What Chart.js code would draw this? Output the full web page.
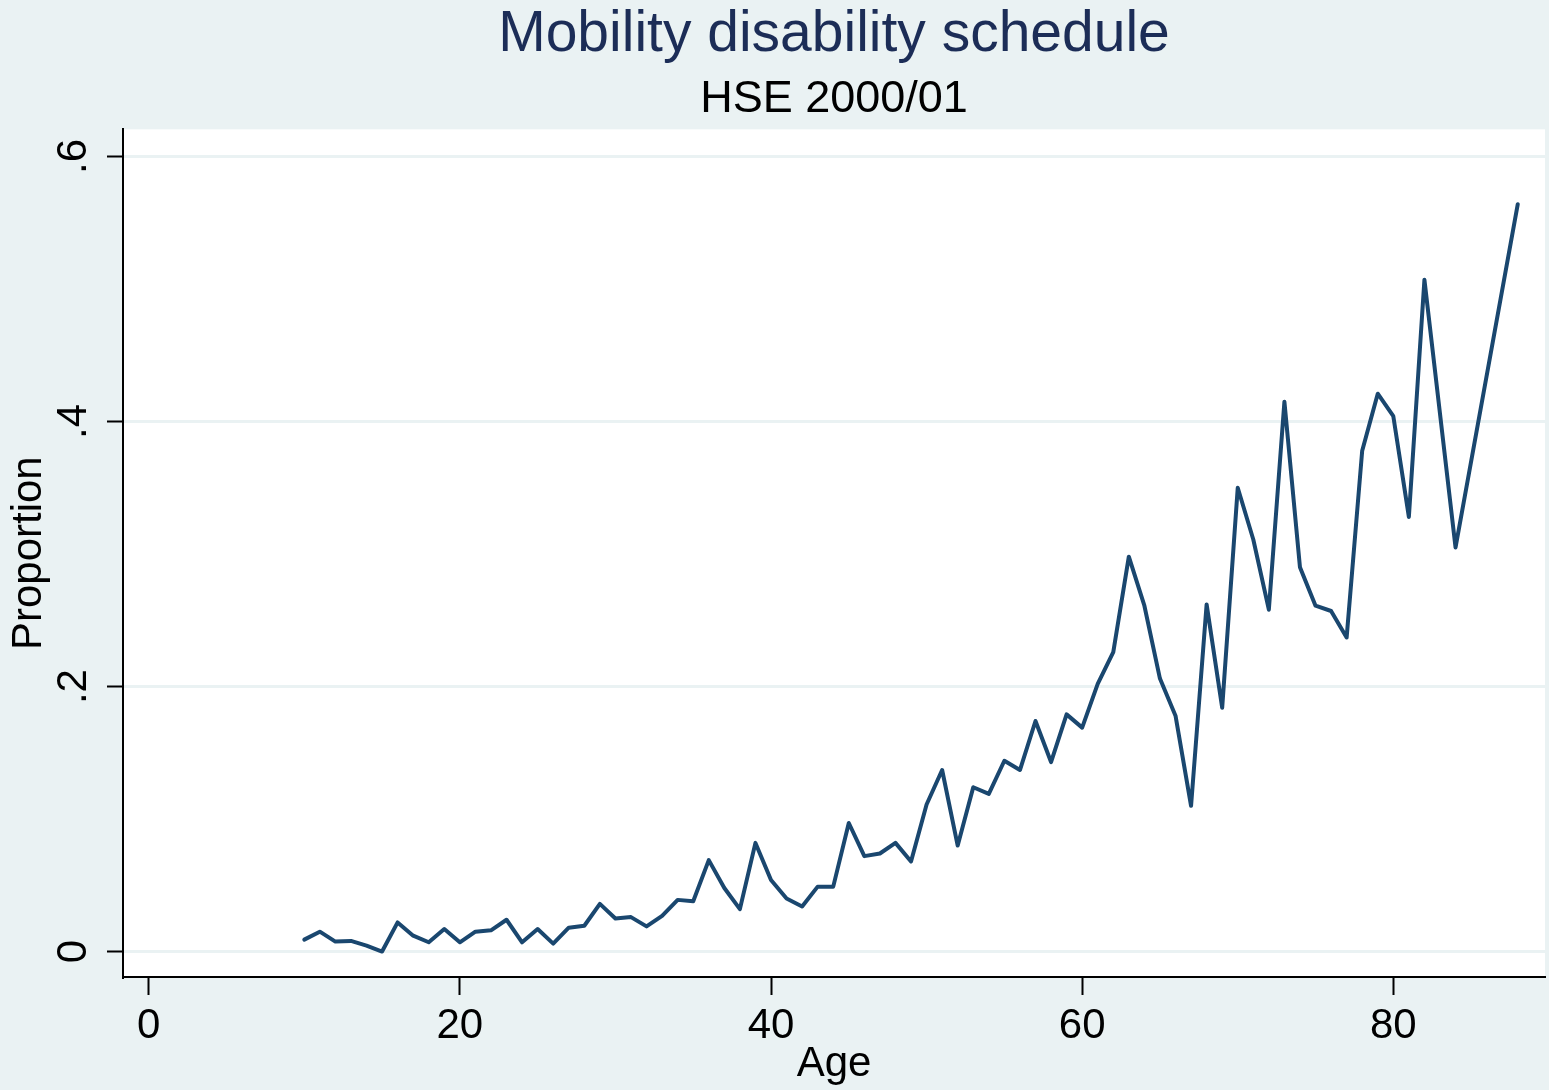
<!DOCTYPE html>
<html>
<head>
<meta charset="utf-8">
<script src="https://cdn.jsdelivr.net/npm/chart.js@4/dist/chart.umd.min.js"></script>
<style>
  html, body { margin: 0; padding: 0; background: #eaf2f3; }
  #wrap { width: 1549px; height: 1090px; }
</style>
</head>
<body>
<div id="wrap"><canvas id="c" width="1549" height="1090"></canvas></div>
<script>
// ---- data ----
const ages = [10,11,12,13,14,15,16,17,18,19,20,21,22,23,24,25,26,27,28,29,30,31,32,33,34,35,36,37,38,39,40,41,42,43,44,45,46,47,48,49,50,51,52,53,54,55,56,57,58,59,60,61,62,63,64,65,66,67,68,69,70,71,72,73,74,75,76,77,78,79,80,81,82,84,88];
const proportion = [0.009,0.015,0.0075,0.008,0.0045,0.0,0.022,0.012,0.007,0.017,0.007,0.015,0.016,0.024,0.007,0.017,0.006,0.018,0.0195,0.036,0.025,0.026,0.019,0.027,0.039,0.038,0.069,0.048,0.032,0.082,0.054,0.040,0.034,0.049,0.049,0.097,0.072,0.074,0.082,0.068,0.111,0.137,0.080,0.124,0.119,0.144,0.137,0.174,0.143,0.179,0.169,0.202,0.226,0.298,0.261,0.206,0.178,0.110,0.262,0.184,0.350,0.311,0.258,0.415,0.290,0.261,0.257,0.237,0.378,0.421,0.404,0.328,0.507,0.305,0.564];
const xTicks = [0, 20, 40, 60, 80];
const yTicks = [0, 0.2, 0.4, 0.6];
const yTickLabels = ['0', '.2', '.4', '.6'];
const titleText = 'Mobility disability schedule';
const subtitleText = 'HSE 2000/01';
const xTitle = 'Age';
const yTitle = 'Proportion';

const points = ages.map((a, i) => ({ x: a, y: proportion[i] }));

const FONT = "'Liberation Sans', Arial, Helvetica, sans-serif";

const plotBg = {
  id: 'plotBg',
  beforeDraw(chart) {
    const { ctx, chartArea: a } = chart;
    ctx.save();
    ctx.fillStyle = '#ffffff';
    ctx.fillRect(a.left, a.top, a.right - a.left, a.bottom - a.top);
    ctx.restore();
  }
};

new Chart(document.getElementById('c'), {
  type: 'line',
  data: {
    datasets: [{
      data: points,
      borderColor: '#1a476f',
      borderWidth: 4,
      borderJoinStyle: 'round',
      borderCapStyle: 'round',
      pointRadius: 0,
      tension: 0,
      fill: false
    }]
  },
  options: {
    responsive: false,
    animation: false,
    devicePixelRatio: 1,
    layout: { padding: { top: 3, right: 4, bottom: 0, left: 0 } },
    plugins: {
      legend: { display: false },
      tooltip: { enabled: false },
      title: {
        display: true,
        fullSize: false,
        text: titleText,
        color: '#1c2d57',
        font: { family: FONT, size: 57, weight: 'normal', lineHeight: 1.12 },
        padding: { top: 0, bottom: 5.6 }
      },
      subtitle: {
        display: true,
        fullSize: false,
        text: subtitleText,
        color: '#000000',
        font: { family: FONT, size: 45, weight: 'normal', lineHeight: 1.2 },
        padding: { top: 0, bottom: 2.9 }
      }
    },
    scales: {
      x: {
        type: 'linear',
        min: -1.652,
        max: 89.75,
        afterBuildTicks(scale) { scale.ticks = xTicks.map(v => ({ value: v })); },
        afterFit(scale) { scale.height = 113; },
        ticks: {
          color: '#000000',
          font: { family: FONT, size: 42 },
          padding: 6,
          maxRotation: 0,
          minRotation: 0,
          callback: (v) => String(v)
        },
        grid: {
          drawOnChartArea: false,
          drawTicks: true,
          tickLength: 18,
          tickColor: '#000000',
          tickWidth: 2
        },
        border: { display: true, color: '#000000', width: 2 },
        title: {
          display: true,
          text: xTitle,
          color: '#000000',
          font: { family: FONT, size: 42 },
          padding: { top: 0, bottom: 0 }
        }
      },
      y: {
        type: 'linear',
        min: -0.0192,
        max: 0.6205,
        afterBuildTicks(scale) { scale.ticks = yTicks.map(v => ({ value: v })); },
        afterFit(scale) { scale.width = 123; },
        ticks: {
          color: '#000000',
          font: { family: FONT, size: 42 },
          padding: 15.5,
          minRotation: 90,
          maxRotation: 90,
          crossAlign: 'center',
          callback: (v) => {
            const i = yTicks.findIndex(t => Math.abs(t - v) < 1e-9);
            return i >= 0 ? yTickLabels[i] : '';
          }
        },
        grid: {
          drawOnChartArea: true,
          color: '#eaf2f3',
          lineWidth: 3,
          drawTicks: true,
          tickLength: 16,
          tickColor: '#000000',
          tickWidth: 2
        },
        border: { display: true, color: '#000000', width: 2 },
        title: {
          display: true,
          text: yTitle,
          color: '#000000',
          font: { family: FONT, size: 42 },
          padding: { top: 4, bottom: 0 }
        }
      }
    }
  },
  plugins: [plotBg]
});
</script>
</body>
</html>
